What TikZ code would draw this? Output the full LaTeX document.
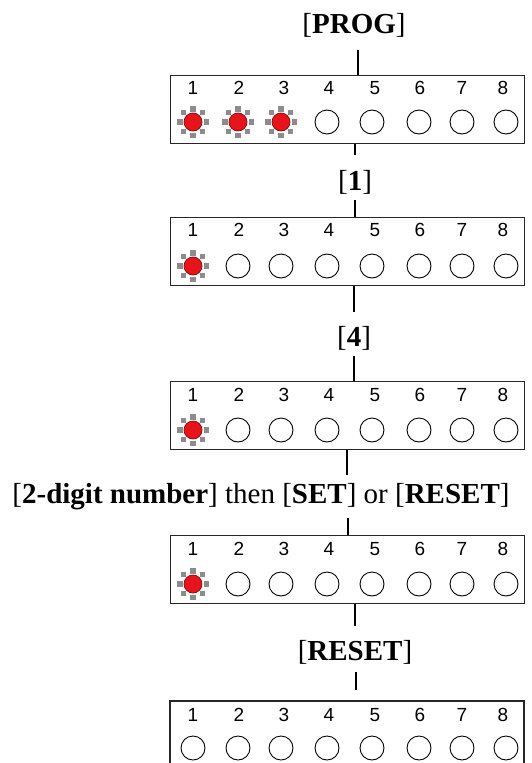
\documentclass[tikz,border=0pt]{standalone}
\usepackage{fontspec}
\setmainfont{Liberation Serif}
\newfontfamily\numfont{Liberation Sans}
\definecolor{ledred}{HTML}{E8141C}
\definecolor{raygray}{HTML}{8C8C8C}
\tikzset{
  panel/.style={draw=black!85, line width=1.3pt, minimum width=354pt, minimum height=68pt, inner sep=0pt, anchor=north west},
  num/.style={font=\numfont\fontsize{19}{19}\selectfont, inner sep=0pt},
  ledoff/.style={draw=black, line width=0.9pt},
  lbl/.style={font=\fontsize{29}{31}\selectfont, inner sep=2pt},
  wire/.style={line width=2pt, black},
  pics/lit/.style={code={
    \foreach \a in {0,90,180,270}
      \fill[raygray, rotate=\a] (-3,10.5) rectangle (3,16);
    \foreach \a in {45,135,225,315}
      \fill[raygray, rotate=\a] (0,10) -- (3.3,13.3) -- (0,16.6) -- (-3.3,13.3) -- cycle;
    \fill[ledred, draw=red!60!black, line width=0.7pt] (0,0) circle (9);
  }}
}
\newcommand{\numrow}[1]{%
  \foreach \n/\x in {1/193,2/239,3/284,4/329,5/375,6/420,7/462,8/503}
    \node[num] at (\x,#1) {\n};}
\newcommand{\ledrow}[2]{% y, number lit
  \foreach \n/\x in {1/193,2/238,3/281,4/327,5/372,6/419,7/462,8/506}{
    \ifnum\n>#2 \draw[ledoff] (\x,#1) circle (12);
    \else \pic at (\x,#1) {lit};
    \fi}}
\begin{document}
\begin{tikzpicture}[x=1pt,y=-1pt]
\useasboundingbox (0,0) rectangle (531,763);
\fill[white] (0,0) rectangle (531,763);

% panels
\node[panel] (b1) at (170,75) {};
\node[panel] (b2) at (170,217) {};
\node[panel] (b3) at (170,381) {};
\node[panel] (b4) at (170,535) {};
\coordinate (b5) at (347,701);
\draw[draw=black!85, line width=1.3pt] (170,763) -- (170,701) -- (524,701) -- (524,763);

\numrow{88}  \ledrow{122}{3}
\numrow{230} \ledrow{266}{1}
\numrow{395} \ledrow{430}{1}
\numrow{549} \ledrow{584}{1}
\numrow{715} \ledrow{748}{0}

% labels
\node[lbl] (l0) at (354,25) {[\textbf{PROG}]};
\node[lbl] (l1) at (355,182) {[\textbf{1}]};
\node[lbl] (l2) at (354,338) {[\textbf{4}]};
\node[lbl] (l3) at (261,497) {[\textbf{2-digit number}] then [\textbf{SET}] or [\textbf{RESET}]};
\node[lbl] (l4) at (355,652) {[\textbf{RESET}]};

% wire ends
\coordinate (w0) at (358,50);
\coordinate (w1a) at (355,155);
\coordinate (w1b) at (355,200);
\coordinate (w2a) at (354,312);
\coordinate (w2b) at (354,356);
\coordinate (w3a) at (347,475);
\coordinate (w3b) at (348,518);
\coordinate (w4a) at (355,626);
\coordinate (w4b) at (356,672);
\coordinate (w4c) at (356,690);

\draw[wire] (w0) -- (w0 |- b1.north);
\draw[wire] (b1.south -| w1a) -- (w1a);
\draw[wire] (w1b) -- (w1b |- b2.north);
\draw[wire] (b2.south -| w2a) -- (w2a);
\draw[wire] (w2b) -- (w2b |- b3.north);
\draw[wire] (b3.south -| w3a) -- (w3a);
\draw[wire] (w3b) -- (w3b |- b4.north);
\draw[wire] (b4.south -| w4a) -- (w4a);
\draw[wire] (w4b) -- (w4c);
\end{tikzpicture}
\end{document}
